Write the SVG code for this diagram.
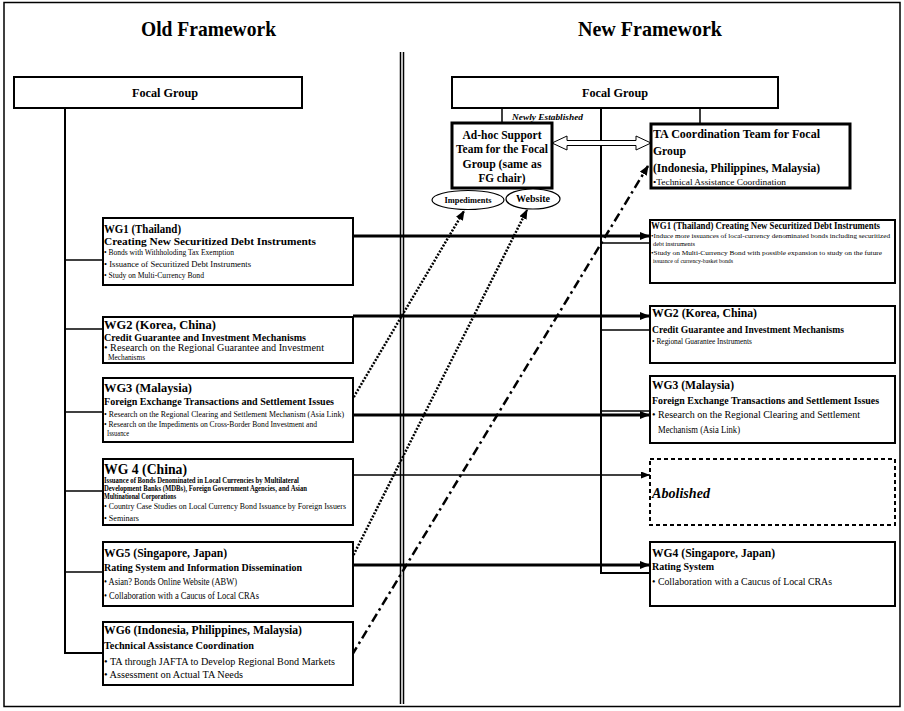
<svg xmlns="http://www.w3.org/2000/svg" width="904" height="711" viewBox="0 0 904 711">
<style>
text{font-family:"Liberation Serif","Times New Roman",serif;fill:#000}
.b{font-weight:bold}
.bi{font-weight:bold;font-style:italic}
.box{fill:#fff;stroke:#000;stroke-width:2}
.thk{fill:#fff;stroke:#000;stroke-width:3}
.ln{stroke:#000;stroke-width:1.5;fill:none}
.tr{stroke:#000;stroke-width:2;fill:none}
.ar{stroke:#000;stroke-width:3;fill:none;marker-end:url(#ah)}
.arT{stroke:#000;stroke-width:1.5;fill:none;marker-end:url(#ahs)}
.dot{stroke:#000;stroke-width:2.5;fill:none;stroke-dasharray:2 1.5;marker-end:url(#ahd)}
.dd{stroke:#000;stroke-width:2.5;fill:none;stroke-dasharray:9 4 2.5 4;marker-end:url(#ahd)}
</style>
<defs>
<marker id="ah" markerUnits="userSpaceOnUse" markerWidth="10" markerHeight="8" refX="10" refY="4" orient="auto"><path d="M0,0L10,4L0,8z" fill="#000"/></marker>
<marker id="ahs" markerUnits="userSpaceOnUse" markerWidth="9" markerHeight="7" refX="9" refY="3.5" orient="auto"><path d="M0,0L9,3.5L0,7z" fill="#000"/></marker>
<marker id="ahd" markerUnits="userSpaceOnUse" markerWidth="10" markerHeight="8" refX="9" refY="4" orient="auto"><path d="M0,0L10,4L0,8z" fill="#000"/></marker>
</defs>

<rect x="4" y="2.5" width="896" height="704" fill="#fff" stroke="#000" stroke-width="1.5"/>
<line x1="400.5" y1="52" x2="400.5" y2="704" class="ln" stroke-width="1"/>
<line x1="403.5" y1="52" x2="403.5" y2="704" class="ln" stroke-width="1"/>

<text class="b" x="141" y="36" font-size="21" textLength="135" lengthAdjust="spacingAndGlyphs">Old Framework</text>
<text class="b" x="578" y="36" font-size="21" textLength="144" lengthAdjust="spacingAndGlyphs">New Framework</text>

<g id="connectors">
<line x1="65" y1="108" x2="65" y2="654" class="tr"/>
<line x1="65" y1="260" x2="103" y2="260" class="ln"/>
<line x1="65" y1="329" x2="103" y2="329" class="ln"/>
<line x1="65" y1="412" x2="103" y2="412" class="ln"/>
<line x1="65" y1="491" x2="103" y2="491" class="ln"/>
<line x1="65" y1="572" x2="103" y2="572" class="ln"/>
<line x1="64" y1="653" x2="103" y2="653" class="tr"/>
<line x1="601" y1="108" x2="601" y2="574" class="tr"/>
<line x1="502" y1="108" x2="502" y2="123" class="ln"/>
<line x1="700" y1="108" x2="700" y2="124" class="ln"/>
<line x1="601" y1="243" x2="650" y2="243" class="ln"/>
<line x1="601" y1="330" x2="650" y2="330" class="ln"/>
<line x1="601" y1="411" x2="650" y2="411" class="ln"/>
<line x1="600" y1="573" x2="650" y2="573" class="tr"/>
<line x1="353" y1="236" x2="650" y2="236" class="ar"/>
<line x1="353" y1="316" x2="650" y2="316" class="ar"/>
<line x1="353" y1="415" x2="650" y2="415" class="ar"/>
<line x1="353" y1="475" x2="650" y2="475" class="arT"/>
<line x1="353" y1="565" x2="650" y2="565" class="ar"/>
<line x1="352" y1="400" x2="464" y2="211" class="dot"/>
<line x1="352" y1="558" x2="527" y2="210" class="dot"/>
<line x1="352" y1="655" x2="648" y2="166" class="dd"/>
<polygon points="552,143 567,136 567,140.5 636,140.5 636,136 651,143 636,150 636,145.5 567,145.5 567,150" fill="#fff" stroke="#000" stroke-width="1"/>
</g>

<g id="old-focal">
<rect x="14" y="77" width="288" height="31" class="box"/>
<text class="b" x="165" y="97" font-size="13" text-anchor="middle" textLength="66" lengthAdjust="spacingAndGlyphs">Focal Group</text>
</g>

<g id="new-focal">
<rect x="452" y="77" width="326" height="31" class="box"/>
<text class="b" x="615" y="97" font-size="13" text-anchor="middle" textLength="66" lengthAdjust="spacingAndGlyphs">Focal Group</text>
<text class="bi" x="512" y="120" font-size="8.5" textLength="71" lengthAdjust="spacingAndGlyphs">Newly Established</text>
</g>

<g id="adhoc">
<rect x="452" y="123" width="100" height="65" class="thk"/>
<text class="b" x="502" y="139" font-size="13.5" text-anchor="middle" textLength="79" lengthAdjust="spacingAndGlyphs">Ad-hoc Support</text>
<text class="b" x="502" y="153" font-size="13.5" text-anchor="middle" textLength="92" lengthAdjust="spacingAndGlyphs">Team for the Focal</text>
<text class="b" x="502" y="168" font-size="13.5" text-anchor="middle" textLength="79" lengthAdjust="spacingAndGlyphs">Group  (same as</text>
<text class="b" x="502" y="182" font-size="13.5" text-anchor="middle" textLength="47" lengthAdjust="spacingAndGlyphs">FG chair)</text>
</g>

<g id="impediments">
<ellipse cx="468" cy="200" rx="36" ry="9.5" fill="#fff" stroke="#000" stroke-width="1.2"/>
<text class="b" x="468" y="203" font-size="8.5" text-anchor="middle" textLength="47" lengthAdjust="spacingAndGlyphs">Impediments</text>
</g>
<g id="website">
<ellipse cx="533" cy="199" rx="27" ry="10" fill="#fff" stroke="#000" stroke-width="1.2"/>
<text class="b" x="533" y="202" font-size="9.5" text-anchor="middle" textLength="34" lengthAdjust="spacingAndGlyphs">Website</text>
</g>

<g id="ta-team">
<rect x="651" y="124" width="199" height="64" class="thk"/>
<text class="b" x="653" y="138" font-size="12.5" textLength="167" lengthAdjust="spacingAndGlyphs">TA Coordination Team for Focal</text>
<text class="b" x="653" y="155" font-size="12.5" textLength="33" lengthAdjust="spacingAndGlyphs">Group</text>
<text class="b" x="653" y="172" font-size="12.5" textLength="167" lengthAdjust="spacingAndGlyphs">(Indonesia, Philippines, Malaysia)</text>
<text x="653" y="185" font-size="9" textLength="133" lengthAdjust="spacingAndGlyphs">•Technical Assistance Coordination</text>
</g>

<g id="old-wg1">
<rect x="103" y="218" width="250" height="67" class="box"/>
<text class="b" x="104" y="233" font-size="12.5" textLength="77" lengthAdjust="spacingAndGlyphs">WG1  (Thailand)</text>
<text class="b" x="104" y="245" font-size="11" textLength="212" lengthAdjust="spacingAndGlyphs">Creating New Securitized Debt Instruments</text>
<text x="104" y="255" font-size="8.5" textLength="130" lengthAdjust="spacingAndGlyphs">• Bonds with Withholoding Tax Exemption</text>
<text x="104" y="266.5" font-size="8.5" textLength="147" lengthAdjust="spacingAndGlyphs">• Issuance of Securitized Debt Instruments</text>
<text x="104" y="278" font-size="8.5" textLength="100" lengthAdjust="spacingAndGlyphs">• Study on Multi-Currency Bond</text>
</g>

<g id="old-wg2">
<rect x="103" y="317" width="250" height="46" class="box"/>
<text class="b" x="104" y="329" font-size="12" textLength="112" lengthAdjust="spacingAndGlyphs">WG2  (Korea, China)</text>
<text class="b" x="104" y="341" font-size="10.5" textLength="202" lengthAdjust="spacingAndGlyphs">Credit Guarantee and Investment Mechanisms</text>
<text x="104" y="351" font-size="9.5" textLength="220" lengthAdjust="spacingAndGlyphs">• Research on the Regional Guarantee and Investment</text>
<text x="108" y="360" font-size="9" textLength="37" lengthAdjust="spacingAndGlyphs">Mechanisms</text>
</g>

<g id="old-wg3">
<rect x="103" y="378" width="250" height="64" class="box"/>
<text class="b" x="104" y="392" font-size="12" textLength="88" lengthAdjust="spacingAndGlyphs">WG3  (Malaysia)</text>
<text class="b" x="104" y="405" font-size="10.5" textLength="230" lengthAdjust="spacingAndGlyphs">Foreign Exchange Transactions and Settlement Issues</text>
<text x="104" y="417" font-size="8.5" textLength="240" lengthAdjust="spacingAndGlyphs">• Research on the Regional Clearing and Settlement Mechanism (Asia Link)</text>
<text x="104" y="427" font-size="8.5" textLength="213" lengthAdjust="spacingAndGlyphs">• Research on the Impediments on Cross-Border Bond Investment and</text>
<text x="107" y="436" font-size="8.5" textLength="22" lengthAdjust="spacingAndGlyphs">Issuance</text>
</g>

<g id="old-wg4">
<rect x="103" y="459" width="250" height="66" class="box"/>
<text class="b" x="104" y="474" font-size="14" textLength="83" lengthAdjust="spacingAndGlyphs">WG 4  (China)</text>
<text class="b" x="104" y="483" font-size="7.5" textLength="195" lengthAdjust="spacingAndGlyphs">Issuance of Bonds Denominated in Local Currencies by Multilateral</text>
<text class="b" x="104" y="490.5" font-size="7.5" textLength="203" lengthAdjust="spacingAndGlyphs">Development Banks (MDBs), Foreign Government Agencies, and Asian</text>
<text class="b" x="104" y="499" font-size="7.5" textLength="72" lengthAdjust="spacingAndGlyphs">Multinational Corporations</text>
<text x="104" y="509" font-size="8.5" textLength="242" lengthAdjust="spacingAndGlyphs">• Country Case Studies on Local Currency Bond Issuance by Foreign Issuers</text>
<text x="104" y="521" font-size="7.5" textLength="35" lengthAdjust="spacingAndGlyphs">• Seminars</text>
</g>

<g id="old-wg5">
<rect x="103" y="542" width="250" height="64" class="box"/>
<text class="b" x="104" y="557" font-size="12.5" textLength="123" lengthAdjust="spacingAndGlyphs">WG5  (Singapore, Japan)</text>
<text class="b" x="104" y="571" font-size="10.5" textLength="198" lengthAdjust="spacingAndGlyphs">Rating System and Information Dissemination</text>
<text x="104" y="584.5" font-size="10.5" textLength="133" lengthAdjust="spacingAndGlyphs">• Asian? Bonds Online Website (ABW)</text>
<text x="104" y="599" font-size="10.5" textLength="155" lengthAdjust="spacingAndGlyphs">• Collaboration with a Caucus of Local CRAs</text>
</g>

<g id="old-wg6">
<rect x="103" y="622" width="250" height="63" class="box"/>
<text class="b" x="104" y="634" font-size="12.5" textLength="198" lengthAdjust="spacingAndGlyphs">WG6  (Indonesia, Philippines, Malaysia)</text>
<text class="b" x="104" y="649" font-size="10.5" textLength="150" lengthAdjust="spacingAndGlyphs">Technical Assistance Coordination</text>
<text x="104" y="665" font-size="10.5" textLength="231" lengthAdjust="spacingAndGlyphs">• TA through JAFTA to Develop Regional Bond Markets</text>
<text x="104" y="678" font-size="10.5" textLength="139" lengthAdjust="spacingAndGlyphs">• Assessment on Actual TA Needs</text>
</g>

<g id="new-wg1">
<rect x="650" y="220" width="245" height="63" class="box"/>
<text class="b" x="651" y="229" font-size="9.5" textLength="229" lengthAdjust="spacingAndGlyphs">WG1  (Thailand) Creating New Securitized Debt Instruments</text>
<text x="651" y="238" font-size="6.8" textLength="239" lengthAdjust="spacingAndGlyphs">•Induce more issuances of local-currency denominated bonds including securitized</text>
<text x="653" y="246" font-size="6.8" textLength="42" lengthAdjust="spacingAndGlyphs">debt instruments</text>
<text x="651" y="255" font-size="6.8" textLength="231" lengthAdjust="spacingAndGlyphs">•Study on Multi-Currency Bond with possible expansion to study on the future</text>
<text x="653" y="263" font-size="6.8" textLength="80" lengthAdjust="spacingAndGlyphs">issuance of currency-basket bonds</text>
</g>

<g id="new-wg2">
<rect x="650" y="306" width="245" height="57" class="box"/>
<text class="b" x="652" y="317" font-size="11.5" textLength="105" lengthAdjust="spacingAndGlyphs">WG2  (Korea, China)</text>
<text class="b" x="652" y="333" font-size="10.5" textLength="192" lengthAdjust="spacingAndGlyphs">Credit Guarantee and Investment Mechanisms</text>
<text x="652" y="344" font-size="9" textLength="100" lengthAdjust="spacingAndGlyphs">• Regional Guarantee Instruments</text>
</g>

<g id="new-wg3">
<rect x="650" y="376" width="245" height="67" class="box"/>
<text class="b" x="652" y="389" font-size="11.5" textLength="82" lengthAdjust="spacingAndGlyphs">WG3  (Malaysia)</text>
<text class="b" x="652" y="404" font-size="10.5" textLength="227" lengthAdjust="spacingAndGlyphs">Foreign Exchange Transactions and Settlement Issues</text>
<text x="652" y="418" font-size="10" textLength="208" lengthAdjust="spacingAndGlyphs">• Research on the Regional Clearing and Settlement</text>
<text x="658" y="433" font-size="10" textLength="82" lengthAdjust="spacingAndGlyphs">Mechanism (Asia Link)</text>
</g>

<g id="abolished">
<rect x="650" y="459" width="245" height="66" fill="#fff" stroke="#000" stroke-width="2" stroke-dasharray="4 3"/>
<text class="bi" x="652" y="498" font-size="15" textLength="58" lengthAdjust="spacingAndGlyphs">Abolished</text>
</g>

<g id="new-wg4">
<rect x="650" y="542" width="245" height="64" class="box"/>
<text class="b" x="652" y="557" font-size="12" textLength="123" lengthAdjust="spacingAndGlyphs">WG4  (Singapore, Japan)</text>
<text class="b" x="652" y="570" font-size="10.5" textLength="62" lengthAdjust="spacingAndGlyphs">Rating System</text>
<text x="652" y="585" font-size="9.5" textLength="180" lengthAdjust="spacingAndGlyphs">• Collaboration with a Caucus of Local CRAs</text>
</g>
</svg>
